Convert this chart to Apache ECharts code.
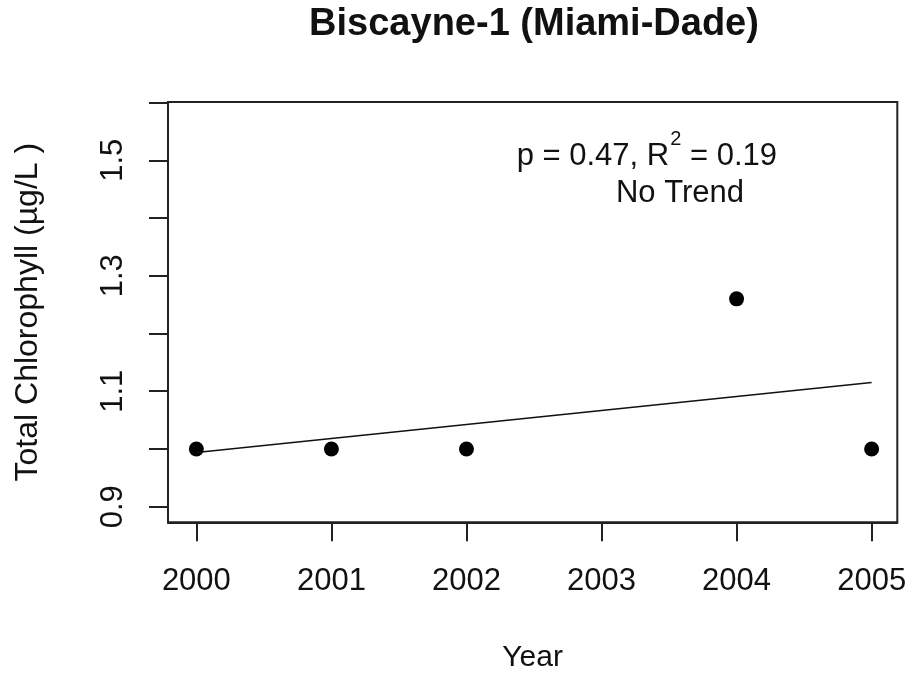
<!DOCTYPE html>
<html>
<head>
<meta charset="utf-8">
<script src="https://cdn.jsdelivr.net/npm/echarts@6/dist/echarts.min.js"></script>
<style>html,body{margin:0;padding:0;background:#fff;}#c{width:911px;height:679px;}</style>
</head>
<body>
<div id="c"></div>
<script>
var years = [2000, 2001, 2002, 2004, 2005];
var chlorophyll = [1.0, 1.0, 1.0, 1.26, 1.0];
var trendYears = [2000, 2005];
var trendValues = [0.994, 1.115];
var xTicks = [2000, 2001, 2002, 2003, 2004, 2005];
var yTicks = [0.9, 1.0, 1.1, 1.2, 1.3, 1.4, 1.5, 1.6];
var yLabels = [0.9, 1.1, 1.3, 1.5];
var titleText = 'Biscayne-1 (Miami-Dade)';
var statMain = 'p = 0.47, R';
var statSup = '2';
var statTail = ' = 0.19';
var trendText = 'No Trend';

var FONT = '"Liberation Sans", Arial, sans-serif';
var INK = '#111';

function textWidth(str, size) {
  var ctx = document.createElement('canvas').getContext('2d');
  ctx.font = size + 'px ' + FONT;
  return ctx.measureText(str).width;
}

var statLeft = 516.7;
var mainW = textWidth(statMain, 31);
var supW = textWidth(statSup, 20);

var chart = echarts.init(document.getElementById('c'), null, {renderer: 'canvas'});
var points = years.map(function (y, i) { return [y, chlorophyll[i]]; });
var trend = trendYears.map(function (y, i) { return [y, trendValues[i]]; });

chart.setOption({
  animation: false,
  backgroundColor: '#fff',
  grid: {
    left: 168, top: 102, right: 13.7, bottom: 156.7,
    containLabel: false, outerBoundsMode: 'none',
    show: true, borderColor: '#222', borderWidth: 2, backgroundColor: 'transparent'
  },
  xAxis: {
    type: 'value', min: 1999.79, max: 2005.19,
    name: 'Year', nameLocation: 'middle', nameGap: 120,
    nameTextStyle: {fontFamily: FONT, fontSize: 30, color: INK},
    splitLine: {show: false},
    axisLine: {show: true, lineStyle: {color: '#222', width: 2}},
    axisTick: {show: true, inside: false, length: 19, customValues: xTicks, lineStyle: {color: '#222', width: 2}},
    axisLabel: {show: true, margin: 44, customValues: xTicks, fontFamily: FONT, fontSize: 31, color: INK,
      formatter: function (v) { return String(Math.round(v)); }}
  },
  yAxis: {
    type: 'value', min: 0.873, max: 1.601,
    name: 'Total Chlorophyll (\u00b5g/L )', nameLocation: 'middle', nameGap: 124, nameRotate: 90,
    nameTextStyle: {fontFamily: FONT, fontSize: 32, color: INK},
    splitLine: {show: false},
    axisLine: {show: true, lineStyle: {color: '#222', width: 2}},
    axisTick: {show: true, inside: false, length: 19, customValues: yTicks, lineStyle: {color: '#222', width: 2}},
    axisLabel: {show: true, margin: 39, rotate: 90, customValues: yLabels, fontFamily: FONT, fontSize: 31, color: INK,
      formatter: function (v) { return v.toFixed(1); }}
  },
  series: [
    {
      type: 'line', data: trend, symbol: 'none', silent: true,
      lineStyle: {color: '#111', width: 1.5}
    },
    {
      type: 'scatter', data: points, symbol: 'circle', symbolSize: 15,
      itemStyle: {color: '#000', opacity: 1}
    }
  ],
  graphic: [
    {
      type: 'text', x: 534, y: 25,
      style: {text: titleText, align: 'center', verticalAlign: 'middle', fontFamily: FONT, fontSize: 38, fontWeight: 'bold', fill: INK}
    },
    {
      type: 'text', x: statLeft, y: 156,
      style: {text: statMain, align: 'left', verticalAlign: 'middle', fontFamily: FONT, fontSize: 31, fill: INK}
    },
    {
      type: 'text', x: statLeft + mainW + 1, y: 139,
      style: {text: statSup, align: 'left', verticalAlign: 'middle', fontFamily: FONT, fontSize: 20, fill: INK}
    },
    {
      type: 'text', x: statLeft + mainW + 1 + supW, y: 156,
      style: {text: statTail, align: 'left', verticalAlign: 'middle', fontFamily: FONT, fontSize: 31, fill: INK}
    },
    {
      type: 'text', x: 680, y: 193,
      style: {text: trendText, align: 'center', verticalAlign: 'middle', fontFamily: FONT, fontSize: 31, fill: INK}
    }
  ]
});
</script>
</body>
</html>
